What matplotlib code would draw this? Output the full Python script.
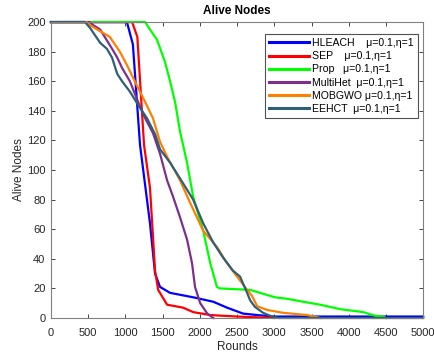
import matplotlib
matplotlib.use('Agg')
import matplotlib.pyplot as plt

plt.rcParams['font.family'] = ['Liberation Sans', 'DejaVu Sans']

# 各协议存活节点数 (rounds, alive)
hleach_r = [0, 1020, 1100, 1196, 1330, 1398, 1465, 1600, 1910, 2180, 2365, 2580, 2770, 3000, 5000]
hleach_n = [200, 200, 185, 117, 64, 30, 21, 17, 14, 11, 7, 3, 2, 1, 1]

sep_r = [0, 1090, 1160, 1250, 1330, 1398, 1440, 1560, 1775, 1910, 2140, 2500, 3000]
sep_n = [200, 200, 190, 117, 88, 32, 19, 9, 7, 4, 2, 1, 0]

prop_r = [0, 1265, 1330, 1425, 1532, 1600, 1667, 1734, 1828, 1910, 2045, 2140, 2230, 2270,
          2675, 2810, 3010, 3170, 3390, 3615, 3885, 4195, 4355, 4460, 4500]
prop_n = [200, 200, 195, 188, 173, 160, 146, 126, 105, 82, 59, 37, 21, 20,
          19, 17, 14, 13, 11, 9, 6, 4, 1.5, 1, 0]

multihet_r = [0, 520, 565, 660, 820, 890, 955, 1060, 1170, 1265, 1370, 1465, 1560, 1640,
              1734, 1828, 1895, 1935, 2005, 2100, 2180]
multihet_n = [200, 200, 198, 195, 182, 176, 169, 160, 146, 135, 125, 111, 93, 82,
              68, 53, 37, 21, 10, 3, 0]

mobgwo_r = [0, 480, 520, 790, 925, 1020, 1155, 1265, 1370, 1465, 1560, 1734, 1868, 2045,
            2230, 2365, 2500, 2635, 2700, 2770, 2900, 3120, 3440, 3620]
mobgwo_n = [200, 200, 198, 190, 180, 171, 157, 146, 135, 119, 109, 93, 78, 59,
            48, 37, 28, 19, 15, 8, 5.5, 3.5, 2, 0]

eehct_r = [0, 457, 525, 660, 750, 820, 890, 955, 1060, 1170, 1290, 1400, 1465, 1600, 1775,
           1910, 2045, 2180, 2310, 2445, 2540, 2635, 2675, 2740, 2850, 2945, 3050, 5000]
eehct_n = [200, 200, 196, 186, 182, 176, 165, 160, 153, 144, 135, 124, 114, 105, 91,
           80, 64, 51, 41, 32, 28, 17, 12, 7.5, 3.5, 1.5, 0, 0]

series = [
    (hleach_r, hleach_n, '#0000ff', 'HLEACH    μ=0.1,η=1'),
    (sep_r, sep_n, '#ff0000', 'SEP    μ=0.1,η=1'),
    (prop_r, prop_n, '#00ff00', 'Prop   μ=0.1,η=1'),
    (multihet_r, multihet_n, '#7e2f8e', 'MultiHet  μ=0.1,η=1'),
    (mobgwo_r, mobgwo_n, '#ff8000', 'MOBGWO μ=0.1,η=1'),
    (eehct_r, eehct_n, '#2f5f78', 'EEHCT  μ=0.1,η=1'),
]

fig = plt.figure(figsize=(4.34, 3.56), dpi=100)
ax = fig.add_axes([0.1175, 0.1067, 0.8575, 0.8313])

for r, n, c, lab in series:
    ax.plot(r, n, color=c, linewidth=1.6, label=lab, clip_on=False)

ax.set_xlim(0, 5000)
ax.set_ylim(0, 200)
ax.set_xticks(range(0, 5001, 500))
ax.set_yticks(range(0, 201, 20))
ax.tick_params(direction='in', length=3, labelsize=8, colors='#262626',
               top=True, right=True, width=0.6)
ax.tick_params(axis='x', pad=7)
ax.tick_params(axis='y', pad=4)
for s in ax.spines.values():
    s.set_color('#808080')
    s.set_linewidth(0.8)

ax.set_title('Alive Nodes', fontsize=8.5, fontweight='bold', pad=6)
ax.set_xlabel('Rounds', fontsize=8.5, color='#262626', labelpad=2)
ax.set_ylabel('Alive Nodes', fontsize=8.5, color='#262626', labelpad=1)

leg = ax.legend(loc='upper right', fontsize=7.6, frameon=True, fancybox=False,
                edgecolor='#262626', handlelength=3.8, handletextpad=0.3,
                labelspacing=0.3, borderpad=0.4, borderaxespad=0.0,
                bbox_to_anchor=(0.987, 0.96))
leg.get_frame().set_linewidth(0.8)
for line in leg.get_lines():
    line.set_linewidth(2.2)

fig.savefig('out.png', dpi=100, facecolor='white')
plt.close(fig)
